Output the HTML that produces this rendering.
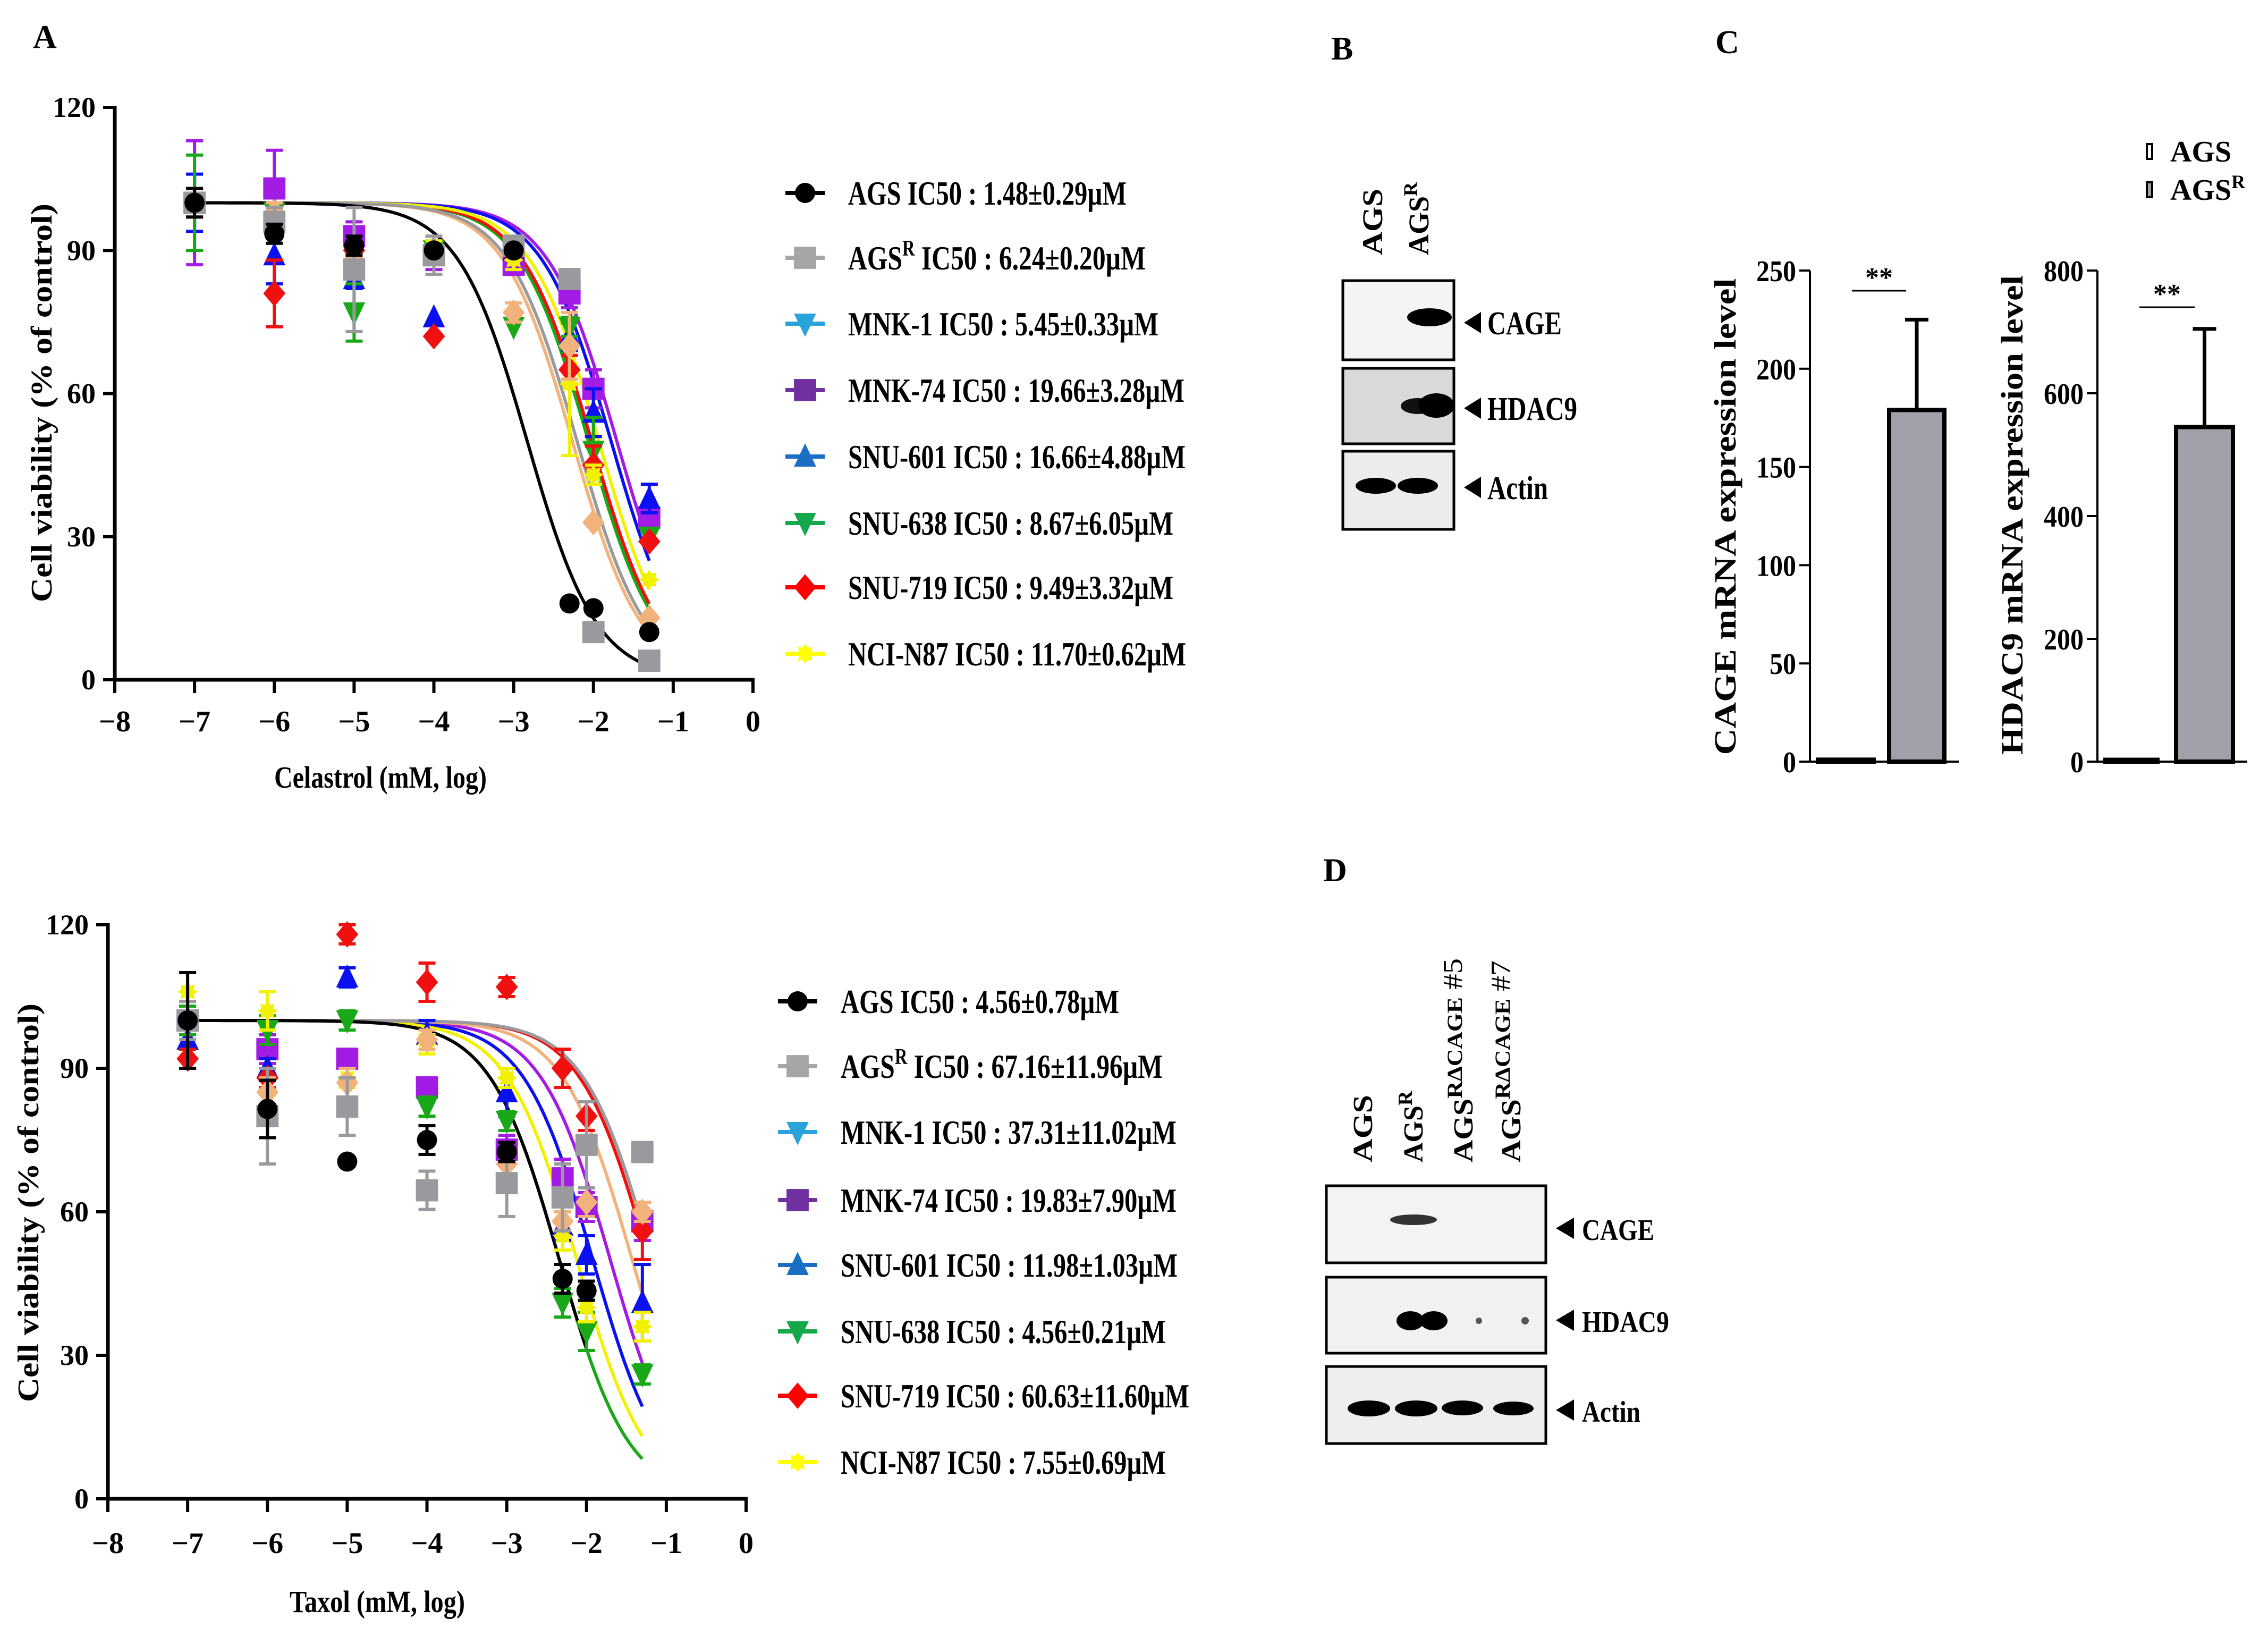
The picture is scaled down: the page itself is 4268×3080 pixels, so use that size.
<!DOCTYPE html>
<html><head><meta charset="utf-8"><style>
html,body{margin:0;padding:0;background:#fff;}
svg{display:block;}
text{font-family:"Liberation Serif","DejaVu Serif",serif;font-weight:bold;fill:#000;}
</style></head><body>
<svg id="fig" width="4268" height="3080" viewBox="0 0 4268 3080" xmlns="http://www.w3.org/2000/svg">
<rect x="0" y="0" width="4268" height="3080" fill="#fff"/>
<text x="62" y="90" font-size="62">A</text>
<text x="2505" y="112" font-size="62">B</text>
<text x="3228" y="100" font-size="62">C</text>
<text x="2490" y="1658" font-size="62">D</text>

<text x="716" y="1482" font-size="58" text-anchor="middle" textLength="400" lengthAdjust="spacingAndGlyphs">Celastrol (mM, log)</text>
<text transform="translate(97,758) rotate(-90)" font-size="56" text-anchor="middle" textLength="750" lengthAdjust="spacingAndGlyphs">Cell viability (% of control)</text>
<text x="710" y="3033" font-size="58" text-anchor="middle" textLength="330" lengthAdjust="spacingAndGlyphs">Taxol (mM, log)</text>
<text transform="translate(72,2263) rotate(-90)" font-size="56" text-anchor="middle" textLength="750" lengthAdjust="spacingAndGlyphs">Cell viability (% of control)</text>

<g id="topPlot"></g>
<g id="botPlot"></g>
<g id="topLegend"></g>
<g id="botLegend"></g>

<g>
<text transform="translate(2601,480) rotate(-90)" font-size="54" textLength="125" lengthAdjust="spacingAndGlyphs">AGS</text>
<text transform="translate(2688,480) rotate(-90)" font-size="54">AGS<tspan font-size="36" dy="-22">R</tspan></text>
<rect x="2527" y="528" width="209" height="149" fill="#f4f4f4" stroke="#000" stroke-width="5"/>
<rect x="2527" y="693" width="209" height="142" fill="#d9d9d9" stroke="#000" stroke-width="5"/>
<rect x="2527" y="849" width="209" height="147" fill="#ececec" stroke="#000" stroke-width="5"/>
<ellipse cx="2690" cy="597" rx="42" ry="17" fill="#000"/>
<ellipse cx="2668" cy="764" rx="32" ry="15" fill="#111"/>
<ellipse cx="2703" cy="763" rx="34" ry="23" fill="#000"/>
<ellipse cx="2589" cy="914" rx="38" ry="15" fill="#000"/>
<ellipse cx="2668" cy="914" rx="38" ry="15" fill="#000"/>
<polygon points="2755,607 2787,587 2787,627" fill="#000"/>
<polygon points="2755,768 2787,748 2787,788" fill="#000"/>
<polygon points="2755,917 2787,897 2787,937" fill="#000"/>
<text x="2799" y="629" font-size="62" textLength="140" lengthAdjust="spacingAndGlyphs">CAGE</text>
<text x="2799" y="790" font-size="62" textLength="169" lengthAdjust="spacingAndGlyphs">HDAC9</text>
<text x="2799" y="939" font-size="62" textLength="114" lengthAdjust="spacingAndGlyphs">Actin</text>
</g>

<g>
<text transform="translate(2582,2187) rotate(-90)" font-size="52" textLength="127" lengthAdjust="spacingAndGlyphs">AGS</text>
<text transform="translate(2677,2187) rotate(-90)" font-size="52">AGS<tspan font-size="38" dy="-20">R</tspan></text>
<text transform="translate(2771,2187) rotate(-90)" font-size="52" textLength="384" lengthAdjust="spacingAndGlyphs">AGS<tspan font-size="40" dy="-20">RΔCAGE</tspan><tspan font-size="52" font-weight="normal"> #5</tspan></text>
<text transform="translate(2861,2187) rotate(-90)" font-size="52" textLength="380" lengthAdjust="spacingAndGlyphs">AGS<tspan font-size="40" dy="-20">RΔCAGE</tspan><tspan font-size="52" font-weight="normal"> #7</tspan></text>
<rect x="2496" y="2231" width="413" height="145" fill="#f3f3f3" stroke="#000" stroke-width="5"/>
<rect x="2496" y="2403" width="413" height="143" fill="#f1f1f1" stroke="#000" stroke-width="5"/>
<rect x="2496" y="2571" width="413" height="145" fill="#eeeeee" stroke="#000" stroke-width="5"/>
<ellipse cx="2660" cy="2295" rx="44" ry="10" fill="#333"/>
<ellipse cx="2654" cy="2485" rx="26" ry="18" fill="#000"/>
<ellipse cx="2698" cy="2485" rx="26" ry="18" fill="#000"/>
<rect x="2650" y="2477" width="50" height="16" fill="#000"/>
<circle cx="2783" cy="2485" r="6" fill="#555"/>
<circle cx="2870" cy="2485" r="7" fill="#555"/>
<ellipse cx="2576" cy="2650" rx="40" ry="15" fill="#000"/>
<ellipse cx="2665" cy="2650" rx="40" ry="15" fill="#000"/>
<ellipse cx="2752" cy="2649" rx="39" ry="14" fill="#000"/>
<ellipse cx="2848" cy="2650" rx="38" ry="13" fill="#000"/>
<polygon points="2928,2311 2962,2291 2962,2331" fill="#000"/>
<polygon points="2928,2484 2962,2464 2962,2504" fill="#000"/>
<polygon points="2928,2653 2962,2633 2962,2673" fill="#000"/>
<text x="2977" y="2333" font-size="56" textLength="136" lengthAdjust="spacingAndGlyphs">CAGE</text>
<text x="2977" y="2506" font-size="56" textLength="164" lengthAdjust="spacingAndGlyphs">HDAC9</text>
<text x="2977" y="2675" font-size="56" textLength="110" lengthAdjust="spacingAndGlyphs">Actin</text>
</g>

<g>
<rect x="4040" y="271" width="10" height="28" fill="#fff" stroke="#000" stroke-width="4"/>
<rect x="4040" y="343" width="10" height="28" fill="#a0a0a8" stroke="#000" stroke-width="4"/>
<text x="4084" y="304" font-size="56">AGS</text>
<text x="4084" y="376" font-size="56">AGS<tspan font-size="36" dy="-22">R</tspan></text>
</g>
<text transform="translate(3266,972) rotate(-90)" font-size="58" text-anchor="middle" textLength="897" lengthAdjust="spacingAndGlyphs">CAGE mRNA expression level</text>
<text transform="translate(3806,969) rotate(-90)" font-size="58" text-anchor="middle" textLength="902" lengthAdjust="spacingAndGlyphs">HDAC9 mRNA expression level</text>
<g id="cageBar"></g>
<g id="hdacBar"></g>
</svg>
<script>
const doseX = [-7, -6, -5, -4, -3, -2.3, -2, -1.3];
const xTicks = [-8, -7, -6, -5, -4, -3, -2, -1, 0];
const yTicks = [0, 30, 60, 90, 120];
const seriesNames = ["AGS", "AGSR", "MNK-1", "MNK-74", "SNU-601", "SNU-638", "SNU-719", "NCI-N87"];
const celIC50 = [1.48, 6.24, 5.45, 19.66, 16.66, 8.67, 9.49, 11.70];
const celIC50Err = [0.29, 0.20, 0.33, 3.28, 4.88, 6.05, 3.32, 0.62];
const celAGS = [100, 93.5, 91, 90, 90, 16, 15, 10];
const celAGSR = [100, 96, 86, 89, 91, 84, 10, 4];
const celMNK1 = [100, 98, 88, 90, 77, 70, 33, 13];
const celMNK74 = [100, 103, 93, 89, 87, 81, 61, 34];
const celSNU601 = [100, 89, 84, 76, 90, 72, 56, 38];
const celSNU638 = [100, 98, 77, 90, 74, 74, 48, 30];
const celSNU719 = [100, 81, 90, 72, 89, 65, 45, 29];
const celNCI = [100, 97, 88, 90, 88, 62, 43, 21];
const celErrAGS = [3, 2, 2, 0, 0, 0, 0, 0];
const celErrAGSR = [3, 3, 13, 4, 2, 2, 0, 0];
const celErrMNK1 = [3, 2, 3, 3, 2, 7, 0, 0];
const celErrMNK74 = [13, 8, 3, 3, 2, 3, 4, 2];
const celErrSNU601 = [6, 6, 2, 0, 0, 3, 5, 3];
const celErrSNU638 = [10, 2, 6, 0, 0, 2, 7, 0];
const celErrSNU719 = [3, 7, 0, 0, 0, 3, 4, 0];
const celErrNCI = [3, 2, 2, 2, 2, 15, 2, 0];

const taxIC50 = [4.56, 67.16, 37.31, 19.83, 11.98, 4.56, 60.63, 7.55];
const taxIC50Err = [0.78, 11.96, 11.02, 7.90, 1.03, 0.21, 11.60, 0.69];
const taxAGS = [100, 81.5, 70.5, 75, 72.5, 46, 43.5, null];
const taxAGSR = [100, 80, 82, 64.5, 66, 63, 74, 72.5];
const taxMNK1 = [100, 85, 87, 96, 70, 58, 62, 60];
const taxMNK74 = [100, 94, 92, 86, 73, 67, 61, 58];
const taxSNU601 = [96, 90, 109, 97, 85, 57, 51, 41];
const taxSNU638 = [100, 98, 100, 82, 79, 41, 35, 26];
const taxSNU719 = [92, 88, 118, 108, 107, 90, 80, 56];
const taxNCI = [106, 102, 88, 95, 88, 55, 40, 36];
const taxErrAGS = [10, 6, 0, 3, 2, 3, 2, 0];
const taxErrAGSR = [4, 10, 6, 4, 7, 7, 9, 2];
const taxErrMNK1 = [4, 3, 3, 2, 2, 2, 3, 2];
const taxErrMNK74 = [3, 3, 2, 2, 3, 4, 3, 4];
const taxErrSNU601 = [4, 2, 2, 3, 5, 3, 4, 8];
const taxErrSNU638 = [3, 3, 2, 2, 2, 3, 4, 2];
const taxErrSNU719 = [2, 2, 2, 4, 2, 4, 3, 6];
const taxErrNCI = [4, 4, 2, 2, 2, 3, 3, 3];

const cageGroups = ["AGS", "AGSR"];
const cageValues = [1, 179];
const cageErr = [0, 46];
const hdacValues = [3, 545];
const hdacErr = [0, 160];
const cageTicks = [0, 50, 100, 150, 200, 250];
const hdacTicks = [0, 200, 400, 600, 800];

const plotColors = ["#000000", "#9a9a9e", "#f2b27c", "#a31ce6", "#0a10f0", "#18a818", "#f01010", "#f2f200"];
const legendColors = ["#000000", "#a6a6a6", "#29a3d9", "#7030a0", "#1a6fc4", "#14a84a", "#ff0000", "#ffff00"];
const plotMarkers = ["circle", "square", "diamond", "square", "tri-up", "tri-down", "diamond", "star"];
const legendMarkers = ["circle", "square", "tri-down", "square", "tri-up", "tri-down", "diamond", "star"];

const NS = "http://www.w3.org/2000/svg";
function mk(tag, attrs, parent) {
  const e = document.createElementNS(NS, tag);
  for (const k in attrs) e.setAttribute(k, attrs[k]);
  parent.appendChild(e);
  return e;
}
function markerShape(kind, cx, cy, s, color, parent) {
  let e;
  if (kind === "circle") e = mk("circle", {cx: cx, cy: cy, r: s * 0.5, fill: color}, parent);
  else if (kind === "square") e = mk("rect", {x: cx - s * 0.55, y: cy - s * 0.55, width: s * 1.1, height: s * 1.1, fill: color}, parent);
  else if (kind === "diamond") e = mk("polygon", {points: `${cx},${cy - s * 0.65} ${cx + s * 0.55},${cy} ${cx},${cy + s * 0.65} ${cx - s * 0.55},${cy}`, fill: color}, parent);
  else if (kind === "tri-up") e = mk("polygon", {points: `${cx},${cy - s * 0.65} ${cx + s * 0.55},${cy + s * 0.5} ${cx - s * 0.55},${cy + s * 0.5}`, fill: color}, parent);
  else if (kind === "tri-down") e = mk("polygon", {points: `${cx},${cy + s * 0.65} ${cx + s * 0.55},${cy - s * 0.5} ${cx - s * 0.55},${cy - s * 0.5}`, fill: color}, parent);
  else {
    let pts = [];
    for (let i = 0; i < 16; i++) { const a = i * Math.PI / 8; const r = (i % 2 ? 0.32 : 0.5) * s; pts.push((cx + r * Math.cos(a)) + "," + (cy + r * Math.sin(a))); }
    e = mk("polygon", {points: pts.join(" "), fill: color}, parent);
  }
  return e;
}

function drawDose(gid, ax, values, errs, ic50s, curveEnds) {
  const g = document.getElementById(gid);
  const sx = v => ax.x0 + (v - (-8)) / 8 * (ax.x1 - ax.x0);
  const sy = v => ax.y0 - v / 120 * (ax.y0 - ax.y1);
  const yAxis = mk("line", {x1: ax.x0, y1: ax.y0 + 3, x2: ax.x0, y2: ax.y1 - 3, stroke: "#000", "stroke-width": 7}, g);
  
  
  const xAxis = mk("line", {x1: ax.x0 - 3, y1: ax.y0, x2: ax.x1 + 3, y2: ax.y0, stroke: "#000", "stroke-width": 7}, g);
  
  
  yTicks.forEach(t => {
    mk("line", {x1: ax.x0 - 22, y1: sy(t), x2: ax.x0, y2: sy(t), stroke: "#000", "stroke-width": 6}, g);
    const tl = mk("text", {x: ax.x0 - 36, y: sy(t) + 18, "font-size": 54, "text-anchor": "end"}, g);
    tl.textContent = t;
    
    
  });
  xTicks.forEach(t => {
    mk("line", {x1: sx(t), y1: ax.y0, x2: sx(t), y2: ax.y0 + 25, stroke: "#000", "stroke-width": 6}, g);
    const tl = mk("text", {x: sx(t), y: ax.tickY, "font-size": 56, "text-anchor": "middle"}, g);
    tl.textContent = t === 0 ? "0" : "\u2212" + Math.abs(t);
    
    
  });
  const order = [3, 4, 5, 6, 7, 2, 1, 0];
  order.forEach(i => {
    const logIC = Math.log10(ic50s[i] / 1000);
    let d = "";
    for (let k = 0; k <= 200; k++) {
      const x = -7 + (curveEnds[i] + 7) * k / 200;
      const y = 100 / (1 + Math.pow(10, x - logIC));
      d += (k ? "L" : "M") + sx(x).toFixed(1) + "," + sy(y).toFixed(1);
    }
    const p = mk("path", {d: d, fill: "none", stroke: plotColors[i], "stroke-width": 6}, g);
    
    
  });
  order.forEach(i => {
    const vals = values[i], er = errs[i];
    doseX.forEach((x, k) => {
      const v = vals[k];
      if (v === null) return;
      const px = sx(x), py = sy(v);
      if (er[k] > 0) {
        const e1 = sy(v + er[k]), e2 = sy(v - er[k]);
        mk("line", {x1: px, y1: e1, x2: px, y2: e2, stroke: plotColors[i], "stroke-width": 6}, g);
        mk("line", {x1: px - 16, y1: e1, x2: px + 16, y2: e1, stroke: plotColors[i], "stroke-width": 6}, g);
        mk("line", {x1: px - 16, y1: e2, x2: px + 16, y2: e2, stroke: plotColors[i], "stroke-width": 6}, g);
      }
      const m = markerShape(plotMarkers[i], px, py, 38, plotColors[i], g);
      
      
    });
  });
}

const celVals = [celAGS, celAGSR, celMNK1, celMNK74, celSNU601, celSNU638, celSNU719, celNCI];
const celErrs = [celErrAGS, celErrAGSR, celErrMNK1, celErrMNK74, celErrSNU601, celErrSNU638, celErrSNU719, celErrNCI];
const taxVals = [taxAGS, taxAGSR, taxMNK1, taxMNK74, taxSNU601, taxSNU638, taxSNU719, taxNCI];
const taxErrs = [taxErrAGS, taxErrAGSR, taxErrMNK1, taxErrMNK74, taxErrSNU601, taxErrSNU638, taxErrSNU719, taxErrNCI];

drawDose("topPlot", {x0: 216, x1: 1417, y0: 1279, y1: 202, tickY: 1376}, celVals, celErrs, celIC50, [-1.3, -1.3, -1.3, -1.3, -1.3, -1.3, -1.3, -1.3]);
drawDose("botPlot", {x0: 203, x1: 1404, y0: 2820, y1: 1740, tickY: 2922}, taxVals, taxErrs, taxIC50, [-2, -1.3, -1.3, -1.3, -1.3, -1.3, -1.3, -1.3]);

function drawLegend(gid, rowY, textX, ic, icErr, widths) {
  const g = document.getElementById(gid);
  seriesNames.forEach((n, i) => {
    const y = rowY[i];
    const row = mk("g", {}, g);
    
    
    mk("line", {x1: textX - 118, y1: y, x2: textX - 44, y2: y, stroke: legendColors[i], "stroke-width": 8}, row);
    markerShape(legendMarkers[i], textX - 81, y, 38, legendColors[i], row);
    const t = mk("text", {x: textX, y: y + 22, "font-size": 64, textLength: widths[i], lengthAdjust: "spacingAndGlyphs"}, row);
    const label = ic[i].toFixed(2) + "\u00b1" + icErr[i].toFixed(2) + "\u00b5M";
    if (n === "AGSR") {
      t.appendChild(document.createTextNode("AGS"));
      const sup = mk("tspan", {"font-size": 42, dy: -26}, t);
      sup.textContent = "R";
      const rest = mk("tspan", {dy: 26}, t);
      rest.textContent = " IC50 : " + label;
    } else {
      t.textContent = n + " IC50 : " + label;
    }
  });
}
drawLegend("topLegend", [363, 485, 609, 734, 859, 984, 1105, 1230], 1596, celIC50, celIC50Err, [524, 560, 584, 633, 635, 612, 612, 636]);
drawLegend("botLegend", [1884, 2006, 2130, 2258, 2380, 2505, 2626, 2751], 1582, taxIC50, taxIC50Err, [524, 606, 632, 632, 634, 612, 656, 612]);

function drawBar(gid, ax, vals, errs, ticks, vmax, sig) {
  const g = document.getElementById(gid);
  const sy = v => ax.y0 - v / vmax * (ax.y0 - ax.y1);
  const ya = mk("line", {x1: ax.x0, y1: ax.y0, x2: ax.x0, y2: ax.y1, stroke: "#000", "stroke-width": 4}, g);
  
  
  const xa = mk("line", {x1: ax.x0, y1: ax.y0, x2: ax.xEnd, y2: ax.y0, stroke: "#000", "stroke-width": 4}, g);
  
  
  ticks.forEach(t => {
    mk("line", {x1: ax.x0 - 20, y1: sy(t), x2: ax.x0, y2: sy(t), stroke: "#000", "stroke-width": 4}, g);
    const tl = mk("text", {x: ax.x0 - 26, y: sy(t) + 20, "font-size": 56, "text-anchor": "end", textLength: String(t).length * 25, lengthAdjust: "spacingAndGlyphs"}, g);
    tl.textContent = t;
    
    
  });
  vals.forEach((v, i) => {
    const bx = ax.bars[i][0], bw = ax.bars[i][1] - ax.bars[i][0];
    const top = sy(v);
    if (errs[i] > 0) {
      const cx = bx + bw / 2, et = sy(v + errs[i]);
      mk("line", {x1: cx, y1: top, x2: cx, y2: et, stroke: "#000", "stroke-width": 7}, g);
      mk("line", {x1: cx - 22, y1: et, x2: cx + 22, y2: et, stroke: "#000", "stroke-width": 7}, g);
    }
    const r = mk("rect", {x: bx, y: top, width: bw, height: Math.max(ax.y0 - top, 2), fill: i === 0 ? "#fff" : "#a0a0a8", stroke: "#000", "stroke-width": 8}, g);
    
    
  });
  mk("line", {x1: sig[0], y1: sig[2], x2: sig[1], y2: sig[2], stroke: "#000", "stroke-width": 3}, g);
  const st = mk("text", {x: (sig[0] + sig[1]) / 2, y: sig[2] - 8, "font-size": 52, "text-anchor": "middle"}, g);
  st.textContent = "**";
  
  
}
drawBar("cageBar", {x0: 3406, xEnd: 3686, y0: 1433, y1: 509, bars: [[3421, 3526], [3555, 3659]]}, cageValues, cageErr, cageTicks, 250, [3485, 3587, 547]);
drawBar("hdacBar", {x0: 3947, xEnd: 4229, y0: 1433, y1: 509, bars: [[3962, 4060], [4095, 4202]]}, hdacValues, hdacErr, hdacTicks, 800, [4026, 4130, 578]);
</script>
</body></html>
